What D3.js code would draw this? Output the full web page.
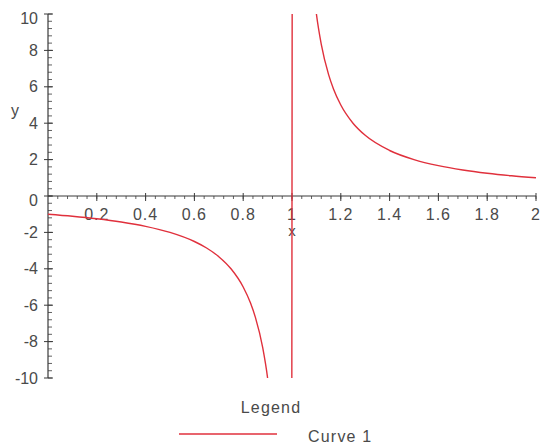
<!DOCTYPE html>
<html>
<head>
<meta charset="utf-8">
<script src="https://cdn.jsdelivr.net/npm/d3@7"></script>
<style>
  html, body { margin: 0; padding: 0; background: #fff; }
  svg text { font-family: "Liberation Sans", Arial, sans-serif; fill: #4a4a4a; }
</style>
</head>
<body>
<svg id="chart" width="543" height="448"></svg>
<script>
// Sampled points of y = 1/(x - 1) on 0..2
const xValues = [0, 0.1, 0.2, 0.3, 0.4, 0.5, 0.6, 0.65, 0.7, 0.75, 0.8, 0.83, 0.85, 0.88, 0.9, 0.92, 0.95, 0.99,
                 1.01, 1.05, 1.08, 1.1, 1.12, 1.15, 1.17, 1.2, 1.25, 1.3, 1.4, 1.5, 1.6, 1.7, 1.8, 1.9, 2.0];
const yValues = [-1, -1.111, -1.25, -1.429, -1.667, -2, -2.5, -2.857, -3.333, -4, -5, -5.882, -6.667, -8.333, -10, -12.5, -20, -100,
                 100, 20, 12.5, 10, 8.333, 6.667, 5.882, 5, 4, 3.333, 2.5, 2, 1.667, 1.429, 1.25, 1.111, 1];

const xTickValues = [0.2, 0.4, 0.6, 0.8, 1, 1.2, 1.4, 1.6, 1.8, 2];
const xTickLabels = ["0.2", "0.4", "0.6", "0.8", "1", "1.2", "1.4", "1.6", "1.8", "2"];
const yTickValues = [-10, -8, -6, -4, -2, 0, 2, 4, 6, 8, 10];
const yTickLabels = ["-10", "-8", "-6", "-4", "-2", "0", "2", "4", "6", "8", "10"];
const seriesName = "Curve 1";

const lineColor = "#e0303c";
const axisColor = "#3a3a3a";

const svg = d3.select("#chart");

const x = d3.scaleLinear().domain([0, 2]).range([48, 536]);
const y = d3.scaleLinear().domain([-10, 10]).range([378, 14]);

// clip region for the curve (the plotting window)
svg.append("defs").append("clipPath").attr("id", "plotClip")
  .append("rect")
  .attr("x", x(0)).attr("y", y(10))
  .attr("width", x(2) - x(0)).attr("height", y(-10) - y(10));

// x axis through y = 0
const xMinor = d3.range(0.04, 2.001, 0.04).map(v => +v.toFixed(2));
const xg = svg.append("g").attr("transform", `translate(0,${y(0)})`);
xg.append("line").attr("x1", x(0)).attr("x2", x(2)).attr("y1", 0).attr("y2", 0)
  .attr("stroke", axisColor).attr("stroke-width", 1.2);
xg.selectAll("line.minor").data(xMinor).join("line").attr("class", "minor")
  .attr("x1", d => x(d)).attr("x2", d => x(d)).attr("y1", 0).attr("y2", 3)
  .attr("stroke", axisColor).attr("stroke-width", 0.8);
xg.selectAll("line.major").data(xTickValues).join("line").attr("class", "major")
  .attr("x1", d => x(d)).attr("x2", d => x(d)).attr("y1", -3).attr("y2", 5)
  .attr("stroke", axisColor).attr("stroke-width", 1);
xg.selectAll("text.tick").data(xTickValues).join("text").attr("class", "tick")
  .attr("x", d => x(d)).attr("y", 24)
  .attr("text-anchor", "middle").attr("font-size", 16).attr("letter-spacing", 1)
  .text((d, i) => xTickLabels[i]);

// y axis through x = 0
const yMinor = d3.range(-10, 10.001, 0.4).map(v => +v.toFixed(2));
const yg = svg.append("g").attr("transform", `translate(${x(0)},0)`);
yg.append("line").attr("x1", 0).attr("x2", 0).attr("y1", y(-10)).attr("y2", y(10))
  .attr("stroke", axisColor).attr("stroke-width", 1.2);
yg.selectAll("line.minor").data(yMinor).join("line").attr("class", "minor")
  .attr("x1", 0).attr("x2", 4).attr("y1", d => y(d)).attr("y2", d => y(d))
  .attr("stroke", axisColor).attr("stroke-width", 0.8);
yg.selectAll("line.major").data(yTickValues).join("line").attr("class", "major")
  .attr("x1", -4).attr("x2", 5).attr("y1", d => y(d)).attr("y2", d => y(d))
  .attr("stroke", axisColor).attr("stroke-width", 1);
yg.selectAll("text.tick").data(yTickValues).join("text").attr("class", "tick")
  .attr("x", -10)
  .attr("y", d => y(d) + (d === 10 ? 4 : d === 0 ? 4 : 0))
  .attr("dy", "0.35em")
  .attr("text-anchor", "end").attr("font-size", 16)
  .text((d, i) => yTickLabels[i]);

// axis titles
svg.append("text").attr("x", x(1)).attr("y", 236)
  .attr("text-anchor", "middle").attr("font-size", 15).text("x");
svg.append("text").attr("x", 15).attr("y", 110).attr("dy", "0.35em")
  .attr("text-anchor", "middle").attr("font-size", 16).text("y");

// the curve
const pts = xValues.map((v, i) => [v, yValues[i]]);
const line = d3.line().x(d => x(d[0])).y(d => y(d[1])).curve(d3.curveMonotoneX);
svg.append("path").datum(pts)
  .attr("clip-path", "url(#plotClip)")
  .attr("d", line)
  .attr("fill", "none").attr("stroke", lineColor).attr("stroke-width", 1.4);

// legend
svg.append("text").attr("x", 271).attr("y", 413)
  .attr("text-anchor", "middle").attr("font-size", 16).attr("letter-spacing", 1.2).text("Legend");
svg.append("line").attr("x1", 179).attr("x2", 277).attr("y1", 434).attr("y2", 434)
  .attr("stroke", lineColor).attr("stroke-width", 1.4);
svg.append("text").attr("x", 308).attr("y", 442)
  .attr("font-size", 16).attr("letter-spacing", 1.2).text(seriesName);
</script>
</body>
</html>
